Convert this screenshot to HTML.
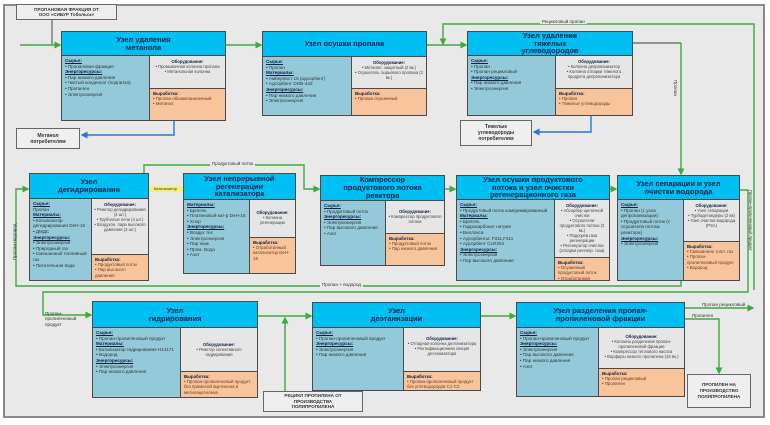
<!DOCTYPE html>
<html><head><meta charset="utf-8">
<style>
*{margin:0;padding:0;box-sizing:border-box}
body{width:770px;height:425px;background:#fff;position:relative;overflow:hidden;font-family:"Liberation Sans","DejaVu Sans",sans-serif}
#frame{position:absolute;left:3px;top:4px;width:762px;height:414px;background:#e9e9e9;border:2px solid #8a8a8a}
.b{position:absolute;border:1px solid #4a4a4a;background:#93c9d8;overflow:hidden}
.h{position:absolute;left:0;top:0;right:0;background:#00bff2;border-bottom:1px solid #4a4a4a;display:flex;align-items:center;justify-content:center;text-align:center;font-weight:bold;font-size:7.5px;line-height:7.8px;color:#10204a}
.l{position:absolute;left:0;bottom:0;padding:2px 3px;font-size:4.6px;line-height:5.6px;color:#333}
.r{position:absolute;right:0;background:#e6e6e6;border-left:1px solid #4a4a4a;font-size:4.2px;line-height:5px;text-align:center;color:#444;padding:3px 2px}
.o{position:absolute;right:0;bottom:0;background:#f7c49b;border-left:1px solid #4a4a4a;border-top:1px solid #4a4a4a;font-size:4.4px;line-height:5.2px;color:#6a3a1a;padding:2px 3px}
.l b,.o b,.r b{font-weight:bold;color:#10204a}
.l b{text-decoration:underline}
.box{position:absolute;background:#efefef;border:1.5px solid #666;font-size:5px;line-height:6px;font-weight:bold;text-align:center;color:#333;display:flex;align-items:center;justify-content:center}
.lab{position:absolute;font-size:4.6px;color:#333;white-space:nowrap}
svg{position:absolute;left:0;top:0}
</style></head><body>
<div id="frame"></div>

<svg width="770" height="425">
<defs>
<marker id="ag" markerWidth="5" markerHeight="5" refX="4" refY="2.5" orient="auto"><path d="M0,0L5,2.5L0,5z" fill="#3aac3a"/></marker>
<marker id="ab" markerWidth="5" markerHeight="5" refX="4" refY="2.5" orient="auto"><path d="M0,0L5,2.5L0,5z" fill="#2a78d0"/></marker>
</defs>
<g fill="none" stroke="#3aac3a" stroke-width="1.4">
<path d="M52 19V45" stroke="#777"/>
<path d="M20 45H60" marker-end="url(#ag)"/>
<path d="M226 45H261" marker-end="url(#ag)"/>
<path d="M427 45H466" marker-end="url(#ag)"/>
<path d="M754 290V24H443V44" marker-end="url(#ag)"/>
<path d="M633 43H681" stroke="#777"/>
<path d="M681 43V174" marker-end="url(#ag)"/>
<path d="M144 173V165H304V189H319" marker-end="url(#ag)"/>
<path d="M445 189H455" marker-end="url(#ag)"/>
<path d="M610 189H616" marker-end="url(#ag)"/>
<path d="M681 280V286H16V189H28" marker-end="url(#ag)"/>
<path d="M740 190H748V292H43V315H91" marker-end="url(#ag)"/>
<path d="M258 316H311" marker-end="url(#ag)"/>
<path d="M285 392V318" marker-end="url(#ag)"/>
<path d="M481 316H515" marker-end="url(#ag)"/>
<path d="M685 308H753" marker-end="url(#ag)"/>
<path d="M685 319H719V373" marker-end="url(#ag)"/>
</g>
<g fill="none" stroke="#2a78d0" stroke-width="1.4">
<path d="M174 120V135H82" marker-end="url(#ab)"/>
<path d="M591 115V132H534" marker-end="url(#ab)"/>
</g>
</svg>

<div class="box" style="left:16px;top:4px;width:101px;height:16px;font-size:4.6px;line-height:5px">ПРОПАНОВАЯ ФРАКЦИЯ ОТ<br>ООО «СИБУР Тобольск»</div>
<div class="box" style="left:16px;top:128px;width:64px;height:21px">Метанол<br>потребителям</div>
<div class="box" style="left:460px;top:120px;width:72px;height:26px">Тяжелые<br>углеводороды<br>потребителям</div>
<div class="box" style="left:263px;top:391px;width:100px;height:21px;font-size:4.6px;line-height:5.5px">РЕЦИКЛ ПРОПИЛЕНА ОТ<br>ПРОИЗВОДСТВА<br>ПОЛИПРОПИЛЕНА</div>
<div class="box" style="left:687px;top:374px;width:64px;height:34px;font-size:4.6px;line-height:6px">ПРОПИЛЕН НА<br>ПРОИЗВОДСТВО<br>ПОЛИПРОПИЛЕНА</div>

<div class="lab" style="left:540px;top:19px;background:#e9e9e9;padding:0 2px">Рецикловый пропан</div>
<div class="lab" style="left:210px;top:161px;background:#e9e9e9;padding:0 2px">Продуктовый поток</div>
<div class="lab" style="left:320px;top:282px;background:#e9e9e9;padding:0 2px">Пропан + водород</div>
<div class="lab" style="left:148px;top:186px;width:35px;height:6px;background:#f4ef7a;font-size:4px;text-align:center">Катализатор</div>
<div class="lab" style="left:45px;top:311px;line-height:5.4px;white-space:normal;width:40px">Пропан-<br>пропиленовый<br>продукт</div>
<div class="lab" style="left:702px;top:302px">Пропан рецикловый</div>
<div class="lab" style="left:692px;top:313px">Пропилен</div>
<div class="lab" style="left:678px;top:80px;transform:rotate(90deg);transform-origin:left top">Пропан</div>
<div class="lab" style="left:12px;top:260px;transform:rotate(-90deg);transform-origin:left top">Пропан+водород</div>
<div class="lab" style="left:753px;top:190px;transform:rotate(90deg);transform-origin:left top;font-size:4.2px">Пропан-пропиленовый продукт</div>

<div class="b" style="left:61px;top:31px;width:165px;height:90px">
<div class="h" style="height:24px">Узел удаления<br>метанола</div>
<div class="l" style="top:24px;width:87px"><b>Сырье:</b><br>• Пропановая фракция<br><b>Энергоресурсы:</b><br>• Пар низкого давления<br>• Чистый конденсат (подпитка)<br>• Пропилен<br>• Электроэнергия</div>
<div class="r" style="top:24px;left:87px;height:32px"><b>Оборудование:</b><br>• Промывочная колонна пропана<br>• Метанольная колонна</div>
<div class="o" style="left:87px;top:56px"><b>Выработка:</b><br>• Пропан обезметаноленный<br>• Метанол</div>
</div>
<div class="b" style="left:262px;top:31px;width:165px;height:85px">
<div class="h" style="height:25px">Узел осушки пропана</div>
<div class="l" style="top:25px;width:88px"><b>Сырье:</b><br>• Пропан<br><b>Материалы:</b><br>• Амберлист 15 (адсорбент)<br>• Адсорбент ООБ-442<br><b>Энергоресурсы:</b><br>• Пар низкого давления<br>• Электроэнергия</div>
<div class="r" style="top:25px;left:88px;height:31px"><b>Оборудование:</b><br>• Метанол. защитный (2 вк.)<br>• Осушитель сырьевого пропана (2 вк.)</div>
<div class="o" style="left:88px;top:56px"><b>Выработка:</b><br>• Пропан осушенный</div>
</div>
<div class="b" style="left:467px;top:31px;width:166px;height:85px">
<div class="h" style="height:24px">Узел удаления<br>тяжелых<br>углеводородов</div>
<div class="l" style="top:24px;width:87px"><b>Сырье:</b><br>• Пропан<br>• Пропан рецикловый<br><b>Энергоресурсы:</b><br>• Пар низкого давления<br>• Электроэнергия</div>
<div class="r" style="top:24px;left:87px;height:32px"><b>Оборудование:</b><br>• Колонна депропанизатор<br>• Колонна отпарки тяжелого продукта депропанизатора</div>
<div class="o" style="left:87px;top:56px"><b>Выработка:</b><br>• Пропан<br>• Тяжелые углеводороды</div>
</div>
<div class="b" style="left:29px;top:173px;width:120px;height:108px">
<div class="h" style="height:25px">Узел<br>дегидрирования</div>
<div class="l" style="top:25px;width:61px"><b>Сырье:</b><br>Пропан<br><b>Материалы:</b><br>• Катализатор дегидрирования DeH-16<br>• ДМДС<br><b>Энергоресурсы:</b><br>• Электроэнергия<br>• Природный газ<br>• Смешанный топливный газ<br>• Питательная вода</div>
<div class="r" style="top:25px;left:61px;height:55px"><b>Оборудование:</b><br>• Реактор дегидрирования (4 шт.)<br>• Трубчатые печи (4 шт.)<br>• Воздухон. пара высокого давления (3 шт.)</div>
<div class="o" style="left:61px;top:80px"><b>Выработка:</b><br>• Продуктовый поток<br>• Пар высокого давления</div>
</div>
<div class="b" style="left:183px;top:173px;width:113px;height:101px">
<div class="h" style="height:26px">Узел непрерывной<br>регенерации<br>катализатора</div>
<div class="l" style="top:26px;width:65px"><b>Материалы:</b><br>• Щелочь<br>• Платиновый кат-р DeH-16<br>• Хлор<br><b>Энергоресурсы:</b><br>• Воздух тех<br>• Электроэнергия<br>• Пар низк<br>• Пром. Вода<br>• Азот</div>
<div class="r" style="top:26px;left:65px;height:37px;padding-top:10px"><b>Оборудование:</b><br>• Колонна регенерации</div>
<div class="o" style="left:65px;top:63px"><b>Выработка:</b><br>• Отработанный катализатор DeH-16</div>
</div>
<div class="b" style="left:320px;top:175px;width:125px;height:91px">
<div class="h" style="height:25px">Компрессор<br>продуктового потока<br>реактора</div>
<div class="l" style="top:25px;width:64px"><b>Сырье:</b><br>• Продуктовый поток<br><b>Энергоресурсы:</b><br>• Электроэнергия<br>• Пар высокого давления<br>• Азот</div>
<div class="r" style="top:25px;left:64px;height:32px;padding-top:8px"><b>Оборудование:</b><br>• Компрессор продуктового потока</div>
<div class="o" style="left:64px;top:57px"><b>Выработка:</b><br>• Продуктовый поток<br>• Пар низкого давления</div>
</div>
<div class="b" style="left:456px;top:175px;width:154px;height:106px">
<div class="h" style="height:24px">Узел осушки продуктового<br>потока и узел очистки<br>регенерационного газа</div>
<div class="l" style="top:24px;width:97px"><b>Сырье:</b><br>• Продуктовый поток компримированный<br><b>Материалы:</b><br>• Щелочь<br>• Гидрокарбонат натрия<br>• Виллокса<br>• Адсорбенты: F311,F311<br>• Адсорбент CLR204<br><b>Энергоресурсы:</b><br>• Электроэнергия<br>• Пар высокого давления</div>
<div class="r" style="top:24px;left:97px;height:57px"><b>Оборудование:</b><br>• Абсорбер щелочной очистки<br>• Осушители продуктового потока (2 вк.)<br>• Подогрев газа регенерации<br>• Регенератор очистки (отпарки регенер. газа)</div>
<div class="o" style="left:97px;top:81px"><b>Выработка:</b><br>• Осушенный продуктовый поток<br>• Отработанная щелочь</div>
</div>
<div class="b" style="left:617px;top:175px;width:123px;height:106px">
<div class="h" style="height:24px">Узел сепарации и узел<br>очистки водорода</div>
<div class="l" style="top:24px;width:65px"><b>Сырье:</b><br>• Пропан (с узла депропанизации)<br>• Продуктовый поток (с осушителя потока реактора)<br><b>Энергоресурсы:</b><br>• Электроэнергия</div>
<div class="r" style="top:24px;left:65px;height:41px"><b>Оборудование:</b><br>• Узел сепарации<br>• Турбодетандеры (2 вк)<br>• Узел очистки водорода (PSA)</div>
<div class="o" style="left:65px;top:65px"><b>Выработка:</b><br>• Смешанное топл. газ<br>• Пропан-пропиленовый продукт<br>• Водород</div>
</div>
<div class="b" style="left:92px;top:301px;width:166px;height:97px">
<div class="h" style="height:26px">Узел<br>гидрирования</div>
<div class="l" style="top:26px;width:87px"><b>Сырье:</b><br>• Пропан-пропиленовый продукт<br><b>Материалы:</b><br>• Катализатор гидрирования H14171<br>• Водород<br><b>Энергоресурсы:</b><br>• Электроэнергия<br>• Пар низкого давления</div>
<div class="r" style="top:26px;left:87px;height:43px;padding-top:14px"><b>Оборудование:</b><br>• Реактор селективного гидрирования</div>
<div class="o" style="left:87px;top:69px"><b>Выработка:</b><br>• Пропан-пропиленовый продукт без примесей ацетилена и метилацетилена</div>
</div>
<div class="b" style="left:312px;top:302px;width:169px;height:89px">
<div class="h" style="height:25px">Узел<br>деэтанизации</div>
<div class="l" style="top:25px;width:90px"><b>Сырье:</b><br>• Пропан-пропиленовый продукт<br><b>Энергоресурсы:</b><br>• Электроэнергия<br>• Пар низкого давления</div>
<div class="r" style="top:25px;left:90px;height:43px;padding-top:8px"><b>Оборудование:</b><br>• Отпарная колонна деэтанизатора<br>• Ректификационная секция деэтанизатора</div>
<div class="o" style="left:90px;top:68px"><b>Выработка:</b><br>• Пропан-пропиленовый продукт без углеводородов C1-C2</div>
</div>
<div class="b" style="left:516px;top:302px;width:169px;height:95px">
<div class="h" style="height:25px">Узел разделения пропан-<br>пропиленовой фракции</div>
<div class="l" style="top:25px;width:81px"><b>Сырье:</b><br>• Пропан-пропиленовый продукт<br><b>Энергоресурсы:</b><br>• Электроэнергия<br>• Пар высокого давления<br>• Пар низкого давления<br>• Азот</div>
<div class="r" style="top:25px;left:81px;height:40px;padding-top:6px"><b>Оборудование:</b><br>• Колонна разделения пропан-пропиленовой фракции<br>• Компрессор теплового насоса<br>• Ворфары низкого пропилена (16 вк.)</div>
<div class="o" style="left:81px;top:65px"><b>Выработка:</b><br>• Пропан рецикловый<br>• Пропилен</div>
</div>
</body></html>
